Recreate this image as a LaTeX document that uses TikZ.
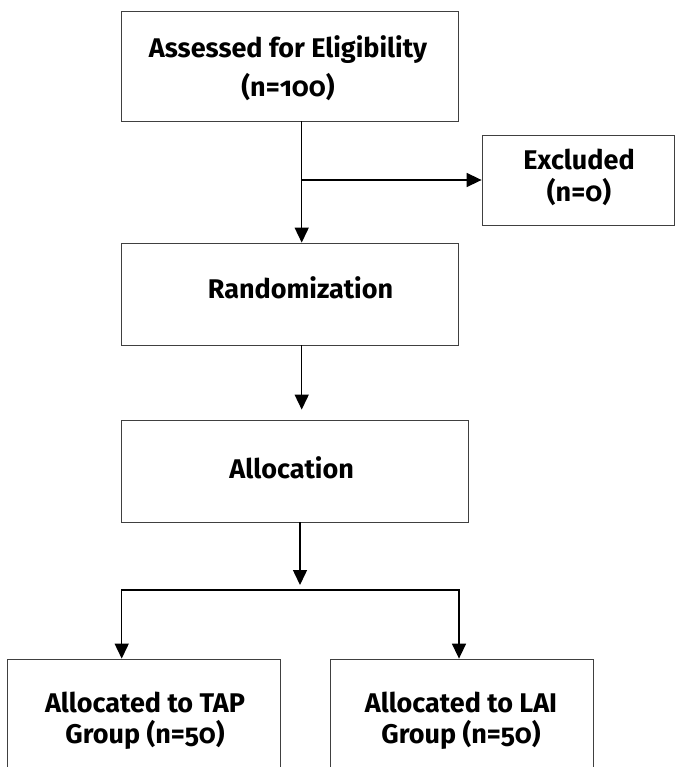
\documentclass[tikz,border=0pt]{standalone}
\usepackage{fontspec}
\setmainfont{Fira Sans}[Numbers=OldStyle]
\usetikzlibrary{arrows.meta,calc}
\begin{document}
\begin{tikzpicture}[x=1pt,y=-1pt,
  box/.style={draw=black!75,line width=0.8pt,inner sep=0pt},
  lbl/.style={inner sep=0pt,anchor=base,align=center,font=\fontsize{27}{#1}\selectfont\bfseries},
  lbl/.default=36,
  conn/.style={draw=black,line width=1.5pt},
  arr/.style={conn,-{Triangle[length=15pt,width=14pt]}}]
\useasboundingbox (0,0) rectangle (675,767);
\clip (0,0) rectangle (675,767);
\fill[white] (0,0) rectangle (675,767);
% boxes
\node[box,minimum width=337pt,minimum height=110pt] (A) at (289.5,66) {};
\node[lbl=38.5] (At) at (288,96.5) {Assessed for Eligibility\\(n=100)};
\node[box,minimum width=192pt,minimum height=90pt] (E) at (578,180) {};
\node[lbl=32] (Et) at (579,201.5) {Excluded\\(n=0)};
\node[box,minimum width=337pt,minimum height=102pt] (R) at (289.5,294) {};
\node[lbl] (Rt) at (300.5,298) {Randomization};
\node[box,minimum width=347pt,minimum height=102pt] (L) at (294.5,471) {};
\node[lbl] (Lt) at (291.7,478) {Allocation};
\node[box,minimum width=273pt,minimum height=140pt] (T) at (143.5,729) {};
\node[lbl=31] (Tt) at (145,743) {Allocated to TAP\\Group (n=50)};
\node[box,minimum width=263pt,minimum height=140pt] (G) at (461.5,729) {};
\node[lbl=31] (Gt) at (461,743) {Allocated to LAI\\Group (n=50)};
% helper coordinates
\coordinate (x1) at (301.7,0);
\coordinate (x2) at (300,0);
\coordinate (bl) at (121.7,590);
\coordinate (bR) at (459,590);
\coordinate (tip3) at (300,585);
\coordinate (mid1) at (301.7,180);
% connectors
\draw[arr] (A.south -| x1) -- (R.north -| x1);
\draw[arr] (mid1) -- (E.west |- mid1);
\draw[arr,shorten >=10pt] (R.south -| x1) -- (L.north -| x1);
\draw[arr] (L.south -| x2) -- (tip3);
\draw[conn,line cap=rect] (bl) -- (bR);
\draw[arr] (bl) -- (T.north -| bl);
\draw[arr] (bR) -- (G.north -| bR);
\end{tikzpicture}
\end{document}
